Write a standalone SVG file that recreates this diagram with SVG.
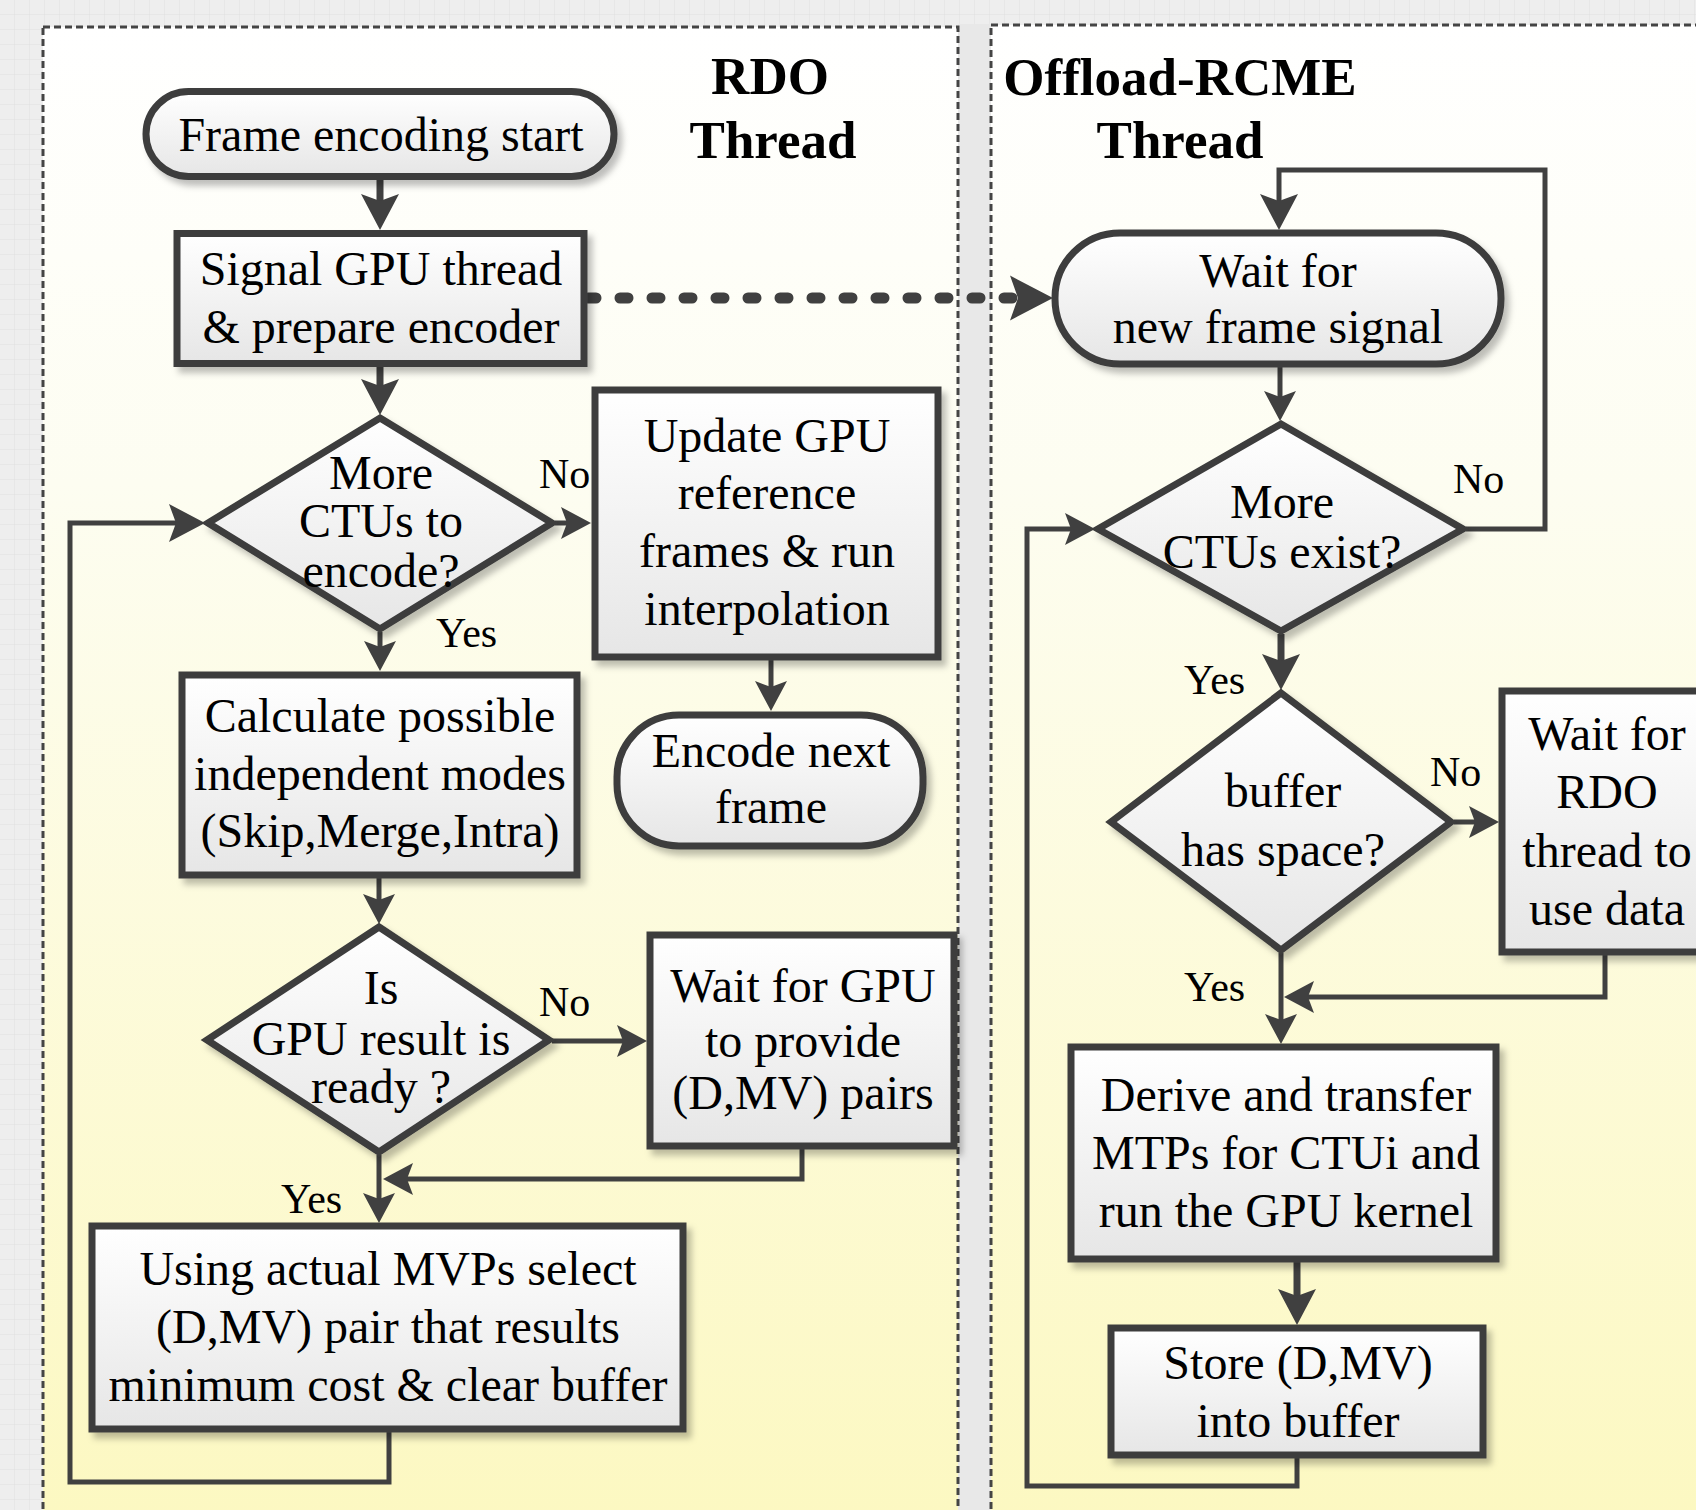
<svg xmlns="http://www.w3.org/2000/svg" width="1696" height="1510" viewBox="0 0 1696 1510">
<defs>
<pattern id="grid" width="15" height="15" patternUnits="userSpaceOnUse">
<rect width="15" height="15" fill="#eeeeee"/>
<path d="M15,0 V15 M0,15 H15" stroke="#e0e0e0" stroke-width="1" fill="none"/>
</pattern>
<linearGradient id="panelFill" x1="0" y1="0" x2="0" y2="1">
<stop offset="0" stop-color="#ffffff"/>
<stop offset="0.3" stop-color="#fdfdf1"/>
<stop offset="1" stop-color="#fcf8c0"/>
</linearGradient>
<linearGradient id="nodeFill" x1="0" y1="0" x2="0" y2="1">
<stop offset="0" stop-color="#ffffff"/>
<stop offset="1" stop-color="#e6e6e6"/>
</linearGradient>
<filter id="shadow" x="-10%" y="-10%" width="125%" height="130%">
<feDropShadow dx="5" dy="6" stdDeviation="3" flood-color="#000" flood-opacity="0.25"/>
</filter>
<marker id="arr" viewBox="-14 -18 36 36" refX="0" refY="0" markerWidth="36" markerHeight="36" markerUnits="userSpaceOnUse" orient="auto">
<path d="M20,0 L-10,-16 L-4,0 L-10,16 Z" fill="#404040"/>
</marker>
<marker id="arrL" viewBox="-14 -21 40 42" refX="0" refY="0" markerWidth="40" markerHeight="42" markerUnits="userSpaceOnUse" orient="auto">
<path d="M24,0 L-12,-19 L-5,0 L-12,19 Z" fill="#404040"/>
</marker>
<marker id="arrXL" viewBox="-20 -24 47 48" refX="0" refY="0" markerWidth="47" markerHeight="48" markerUnits="userSpaceOnUse" orient="auto">
<path d="M25,0 L-18,-22.5 L-10,0 L-18,22.5 Z" fill="#404040"/>
</marker>
<style>
.panel{fill:url(#panelFill);stroke:#444;stroke-width:3;stroke-dasharray:7 4;}
.node{fill:url(#nodeFill);stroke:#3c3c3c;stroke-width:7;stroke-linejoin:miter;filter:url(#shadow);}
.t{font-family:'Liberation Serif','Times New Roman',serif;font-size:48px;fill:#000;text-anchor:middle;}
.lbl{font-family:'Liberation Serif','Times New Roman',serif;font-size:42px;fill:#000;}
.title{font-family:'Liberation Serif','Times New Roman',serif;font-size:53px;font-weight:bold;fill:#000;text-anchor:middle;}
.c{fill:none;stroke:#404040;stroke-width:5;stroke-linejoin:miter;}
.ck{stroke-width:7;}
.dot{fill:none;stroke:#404040;stroke-width:11;stroke-linecap:round;stroke-dasharray:8 24;}
</style>
</defs>

<rect x="0" y="0" width="1696" height="1510" fill="url(#grid)"/>
<rect x="958" y="24" width="33" height="1500" fill="#e8e8e8"/>

<g id="panels">
<rect class="panel" x="43" y="27" width="915" height="1520"/>
<rect class="panel" x="991" y="25" width="740" height="1520"/>
</g>

<g id="titles">
<text class="title" x="770" y="94">RDO</text>
<text class="title" x="773" y="158">Thread</text>
<text class="title" x="1180" y="95">Offload-RCME</text>
<text class="title" x="1180" y="158">Thread</text>
</g>

<g id="connectors">
<path class="c ck" d="M380,178 V206" marker-end="url(#arrL)"/>
<path class="c ck" d="M380,367 V391" marker-end="url(#arrL)"/>
<path class="c" d="M555,523 H571" marker-end="url(#arr)"/>
<path class="c" d="M380,632 V651" marker-end="url(#arr)"/>
<path class="c" d="M771,660 V691" marker-end="url(#arr)"/>
<path class="c" d="M379,878 V904" marker-end="url(#arr)"/>
<path class="c" d="M552,1041 H627" marker-end="url(#arr)"/>
<path class="c" d="M802,1149 V1179 H403" marker-end="url(#arr)"/>
<path class="c" d="M379,1155 V1203" marker-end="url(#arr)"/>
<path class="c" d="M389,1432 V1482 H70 V523 H181" marker-end="url(#arrL)"/>
<path class="dot" d="M588,298 H1027"/>
<path class="c" d="M1027,298 H1028" marker-end="url(#arrXL)"/>
<path class="c" d="M1466,529 H1545 V170 H1279 V206" marker-end="url(#arrL)"/>
<path class="c" d="M1280,367 V401" marker-end="url(#arr)"/>
<path class="c ck" d="M1281,634 V666" marker-end="url(#arrL)"/>
<path class="c" d="M1454,822 H1479" marker-end="url(#arr)"/>
<path class="c" d="M1605,955 V997 H1304" marker-end="url(#arr)"/>
<path class="c" d="M1281,953 V1024" marker-end="url(#arr)"/>
<path class="c ck" d="M1297,1262 V1301" marker-end="url(#arrL)"/>
<path class="c" d="M1297,1458 V1486 H1027 V529 H1075" marker-end="url(#arr)"/>
</g>

<g id="labels">
<text class="lbl" x="539" y="488">No</text>
<text class="lbl" x="436" y="647">Yes</text>
<text class="lbl" x="539" y="1016">No</text>
<text class="lbl" x="281" y="1213">Yes</text>
<text class="lbl" x="1453" y="493">No</text>
<text class="lbl" x="1184" y="694">Yes</text>
<text class="lbl" x="1430" y="786">No</text>
<text class="lbl" x="1184" y="1001">Yes</text>
</g>

<g id="n-frame-start">
<rect class="node" x="146" y="91.5" width="468" height="85" rx="42.5"/>
<text class="t" x="381" y="151">Frame encoding start</text>
</g>
<g id="n-signal">
<rect class="node" x="177" y="233.5" width="407" height="130"/>
<text class="t" x="381" y="285">Signal GPU thread</text>
<text class="t" x="381" y="343">&amp; prepare encoder</text>
</g>
<g id="d-more-ctus">
<polygon class="node" points="380,418 552,523 380,629 208,523"/>
<text class="t" x="381" y="489">More</text>
<text class="t" x="381" y="537">CTUs to</text>
<text class="t" x="381" y="587">encode?</text>
</g>
<g id="n-update">
<rect class="node" x="595" y="390" width="343" height="267"/>
<text class="t" x="767" y="452">Update GPU</text>
<text class="t" x="767" y="509">reference</text>
<text class="t" x="767" y="567">frames &amp; run</text>
<text class="t" x="767" y="625">interpolation</text>
</g>
<g id="n-encode-next">
<rect class="node" x="617" y="715" width="306" height="131" rx="62"/>
<text class="t" x="771" y="767">Encode next</text>
<text class="t" x="771" y="823">frame</text>
</g>
<g id="n-calculate">
<rect class="node" x="182" y="675" width="395" height="200"/>
<text class="t" x="380" y="732">Calculate possible</text>
<text class="t" x="380" y="790">independent modes</text>
<text class="t" x="380" y="847">(Skip,Merge,Intra)</text>
</g>
<g id="d-gpu-ready">
<polygon class="node" points="379,927 549,1040 379,1152 207,1040"/>
<text class="t" x="381" y="1004">Is</text>
<text class="t" x="381" y="1055">GPU result is</text>
<text class="t" x="381" y="1103">ready ?</text>
</g>
<g id="n-wait-gpu">
<rect class="node" x="650" y="935" width="304" height="211"/>
<text class="t" x="803" y="1002">Wait for GPU</text>
<text class="t" x="803" y="1057">to provide</text>
<text class="t" x="803" y="1109">(D,MV) pairs</text>
</g>
<g id="n-using">
<rect class="node" x="92" y="1226" width="591" height="203"/>
<text class="t" x="388" y="1285">Using actual MVPs select</text>
<text class="t" x="388" y="1343">(D,MV) pair that results</text>
<text class="t" x="388" y="1401">minimum cost &amp; clear buffer</text>
</g>

<g id="n-wait-signal">
<rect class="node" x="1055" y="233" width="446" height="131" rx="65"/>
<text class="t" x="1278" y="287">Wait for</text>
<text class="t" x="1278" y="343">new frame signal</text>
</g>
<g id="d-ctus-exist">
<polygon class="node" points="1281,424 1463,529 1281,631 1098,529"/>
<text class="t" x="1282" y="518">More</text>
<text class="t" x="1282" y="568">CTUs exist?</text>
</g>
<g id="d-buffer-space">
<polygon class="node" points="1281,693 1451,822 1281,950 1111,822"/>
<text class="t" x="1283" y="807">buffer</text>
<text class="t" x="1283" y="866">has space?</text>
</g>
<g id="n-wait-rdo">
<rect class="node" x="1502" y="691" width="212" height="261"/>
<text class="t" x="1607" y="750">Wait for</text>
<text class="t" x="1607" y="808">RDO</text>
<text class="t" x="1607" y="867">thread to</text>
<text class="t" x="1607" y="925">use data</text>
</g>
<g id="n-derive">
<rect class="node" x="1071" y="1047" width="425" height="212"/>
<text class="t" x="1286" y="1111">Derive and transfer</text>
<text class="t" x="1286" y="1169">MTPs for CTUi and</text>
<text class="t" x="1286" y="1227">run the GPU kernel</text>
</g>
<g id="n-store">
<rect class="node" x="1111" y="1328" width="372" height="127"/>
<text class="t" x="1298" y="1379">Store (D,MV)</text>
<text class="t" x="1298" y="1437">into buffer</text>
</g>
</svg>
